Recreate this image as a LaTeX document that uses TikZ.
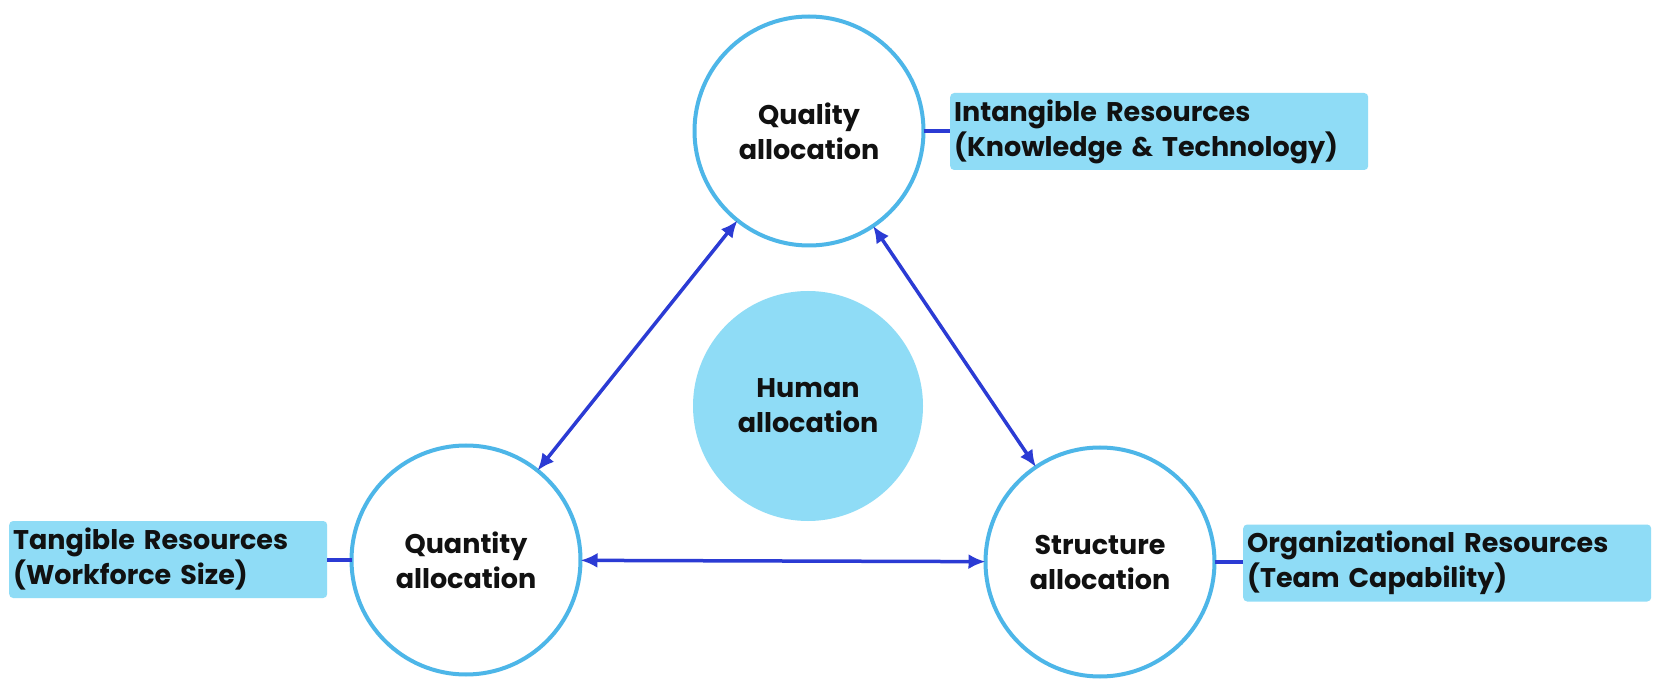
\documentclass[tikz,border=0pt]{standalone}
\usepackage{fontspec}
\setmainfont{Poppins}
\usetikzlibrary{arrows.meta}
\definecolor{ringblue}{HTML}{4DB6E8}
\definecolor{boxfill}{HTML}{8FDCF6}
\definecolor{arrowblue}{HTML}{2B3BD4}
\definecolor{inktext}{HTML}{111111}
\begin{document}
\begin{tikzpicture}[x=1pt,y=-1pt,
  labelfont/.style={font=\fontsize{27}{35}\selectfont\bfseries, text=inktext},
  ringnode/.style={circle, draw=ringblue, line width=4pt, fill=white,
    minimum size=229pt, inner sep=0pt, outer sep=0pt, align=center, labelfont},
  hubnode/.style={circle, fill=boxfill, minimum size=230pt, inner sep=0pt,
    outer sep=0pt, align=center, labelfont},
  resbox/.style={rectangle, rounded corners=4pt, fill=boxfill, anchor=west,
    minimum height=77pt, inner xsep=4pt, inner ysep=0pt, align=left, labelfont},
  twoway/.style={draw=arrowblue, line width=3.5pt,
    {Latex[length=17pt,width=15pt]}-{Latex[length=17pt,width=15pt]}},
  link/.style={draw=arrowblue, line width=3.5pt}
]
\useasboundingbox (0,0) rectangle (1666,700);
\fill[white] (0,0) rectangle (1666,700);

\node[ringnode] (qual) at (809,131) {Quality\\allocation};
\node[ringnode] (quant) at (466,560) {Quantity\\allocation};
\node[ringnode] (struct) at (1100,562) {Structure\\allocation};
\node[hubnode] (human) at (808,406) {Human\\allocation};

\node[resbox, minimum width=418pt, text width=410pt] (intang) at (950,131.5)
  {Intangible Resources\\(Knowledge \& Technology)};
\node[resbox, minimum width=318pt, text width=310pt] (tang) at (9,559.5)
  {Tangible Resources\\(Workforce Size)};
\node[resbox, minimum width=408pt, text width=400pt] (org) at (1243,563)
  {Organizational Resources\\(Team Capability)};

\draw[link] (qual.east) -- (intang.west |- qual.east);
\draw[link] (tang.east |- quant.west) -- (quant.west);
\draw[link] (struct.east) -- (org.west |- struct.east);

\draw[twoway] (qual) -- (quant);
\draw[twoway] (qual) -- (struct);
\draw[twoway] (quant) -- (struct);
\end{tikzpicture}
\end{document}
